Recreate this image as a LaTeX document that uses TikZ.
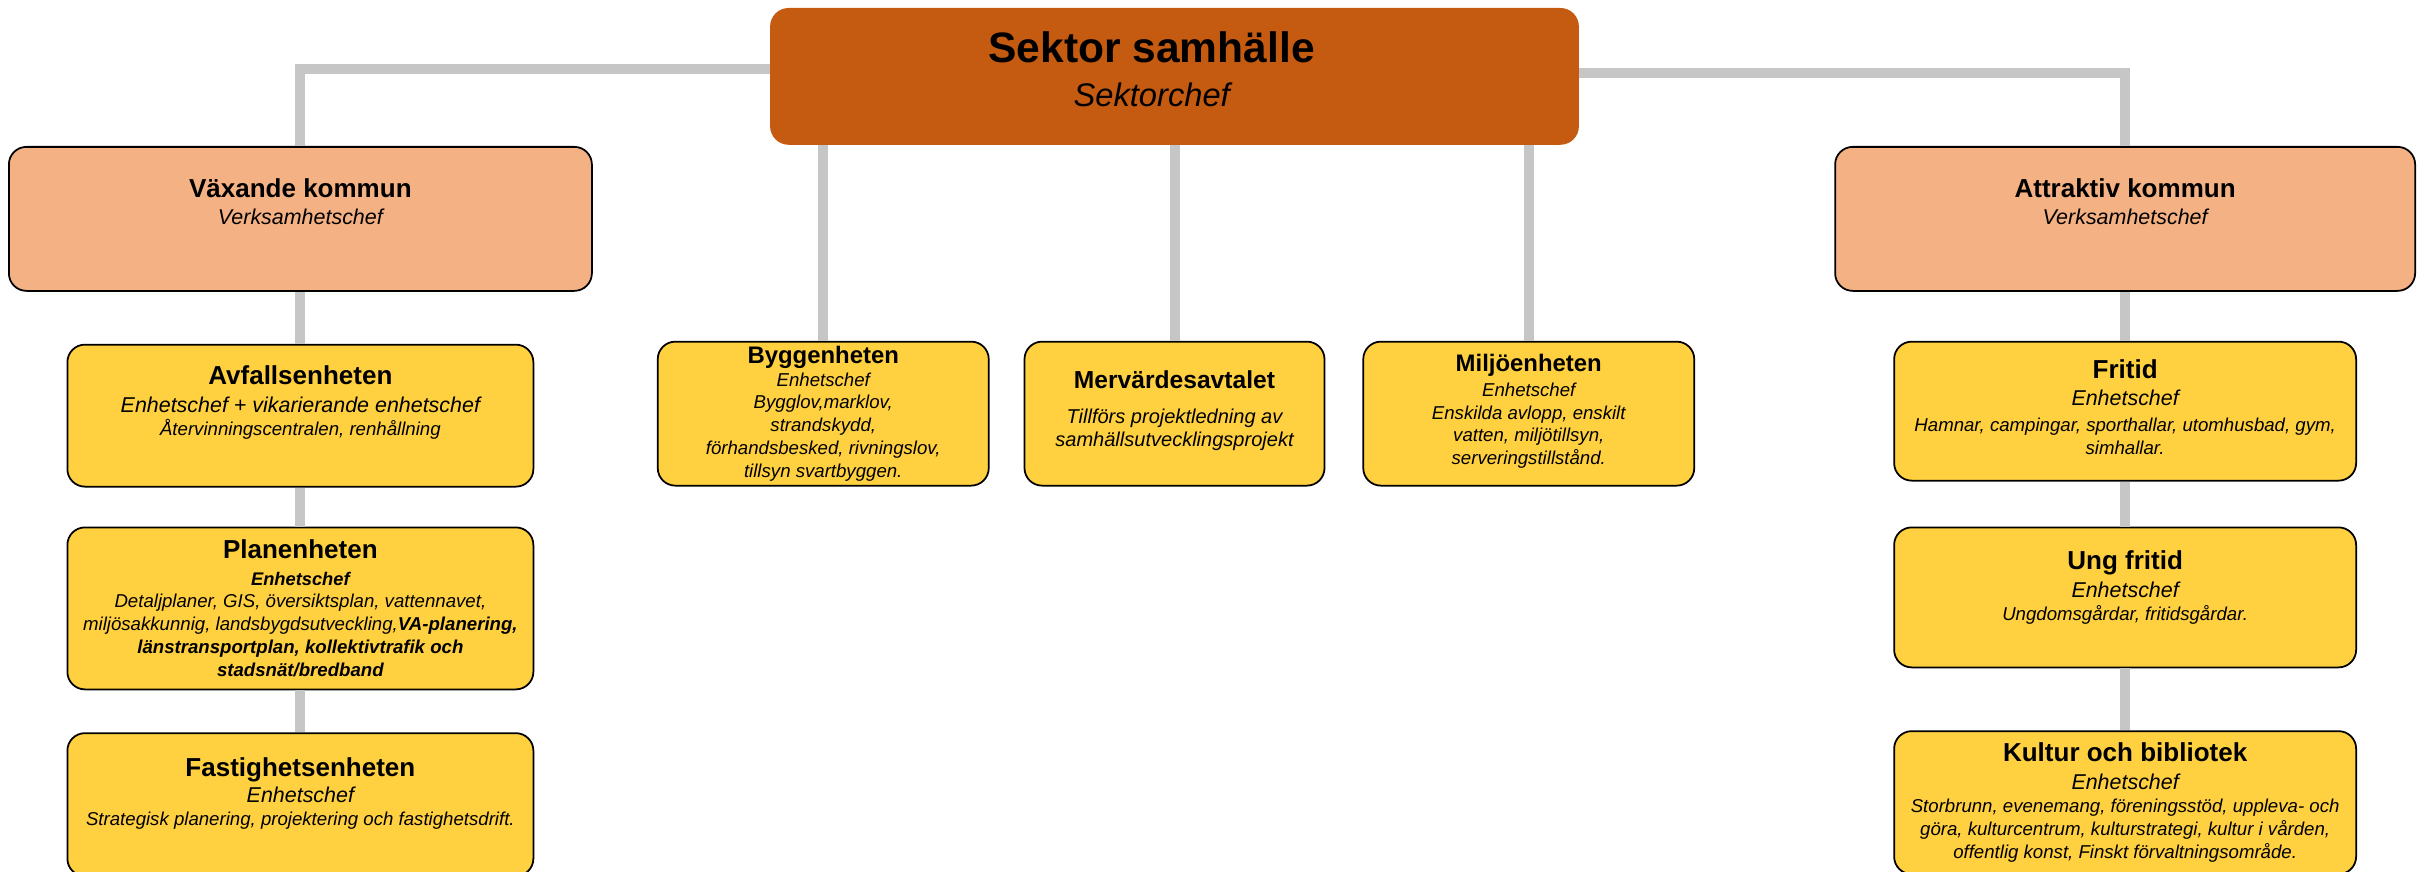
\documentclass[tikz,border=0pt]{standalone}
\usepackage{fontspec}
\setmainfont{Liberation Sans}
\usetikzlibrary{positioning, calc}
\definecolor{sectorFill}{RGB}{197, 90, 17}
\definecolor{areaFill}{RGB}{244, 177, 131}
\definecolor{unitFill}{RGB}{255, 208, 64}
\definecolor{linkGray}{RGB}{198, 198, 198}
\tikzstyle{link} = [draw=linkGray, line width=2.85pt]
\tikzstyle{basic} = [rectangle, rounded corners=5pt, draw=black, line width=0.5pt, align=center, inner sep=0pt, font=\fontsize{5.3}{6.5}\selectfont\itshape]
\tikzstyle{sectorstyle} = [basic, fill=sectorFill, draw=sectorFill, minimum width=8.07cm, minimum height=1.35cm, font=\fontsize{9.3}{12.5}\selectfont\itshape]
\tikzstyle{areastyle} = [basic, fill=areaFill, minimum width=5.8cm, minimum height=1.44cm]
\tikzstyle{unitstyle} = [basic, fill=unitFill, minimum width=4.66cm]
\tikzstyle{midstyle} = [basic, fill=unitFill, minimum height=1.44cm]
\newcommand{\unittitle}[1]{{\fontsize{7.4}{6.5}\selectfont\bfseries\upshape #1}}
\newcommand{\midtitle}[1]{{\fontsize{6.8}{6.5}\selectfont\bfseries\upshape #1}}
\newcommand{\unitchef}[1]{{\fontsize{6.1}{6.5}\selectfont #1}}
\newcommand{\padbelow}[1]{\rule[-#1]{0pt}{#1}}

\begin{document}
\begin{tikzpicture}[node distance=0mm]
\useasboundingbox (0,0) rectangle (24.19,-8.72);

\node (sector) [sectorstyle, anchor=north] at (11.745,-0.08) {{\fontsize{12.1}{12.5}\selectfont\bfseries\upshape Sektor samhälle}\hspace*{13pt}\\Sektorchef\hspace*{13pt}\padbelow{4.3pt}};

\node (grow) [areastyle, minimum width=5.83cm, anchor=north west] at (0.08,-1.46) {\unittitle{Växande kommun}\\[1.2pt]\unitchef{Verksamhetschef}\padbelow{10pt}};
\node (attract) [areastyle, anchor=north east] at (24.16,-1.46) {\unittitle{Attraktiv kommun}\\[1.2pt]\unitchef{Verksamhetschef}\padbelow{10pt}};

\node (avfall) [unitstyle, minimum height=1.42cm, anchor=north, yshift=-5.2mm] at(grow.south) {\unittitle{Avfallsenheten}\\[1.5pt]\unitchef{Enhetschef + vikarierande enhetschef}\\Återvinningscentralen, renhållning\padbelow{8.5pt}};
\node (plan) [unitstyle, minimum height=1.62cm, anchor=north, yshift=-3.9mm] at(avfall.south) {\unittitle{Planenheten}\\[1pt]{\fontsize{5.2}{6.5}\selectfont\bfseries Enhetschef}\\Detaljplaner, GIS, översiktsplan, vattennavet,\\miljösakkunnig, landsbygdsutveckling,{\bfseries VA-planering,}\\{\bfseries länstransportplan, kollektivtrafik och}\\{\bfseries stadsnät/bredband}};
\node (fast) [unitstyle, minimum height=1.43cm, anchor=north, yshift=-4.2mm] at(plan.south) {\unittitle{Fastighetsenheten}\\[1pt]\unitchef{Enhetschef}\\Strategisk planering, projektering och fastighetsdrift.\padbelow{7.4pt}};

\node (merv) [midstyle, minimum width=3.0cm, anchor=north, yshift=-1.96cm] at(sector.south) {{\fontsize{7}{6.5}\selectfont\bfseries\upshape Mervärdesavtalet}\\[3.5pt]{\fontsize{5.7}{6.5}\selectfont Tillförs projektledning av}\\{\fontsize{5.7}{6.5}\selectfont samhällsutvecklingsprojekt}\padbelow{2.8pt}};
\node (bygg) [midstyle, minimum width=3.31cm, anchor=east, xshift=-3.4mm] at(merv.west) {\midtitle{Byggenheten}\\Enhetschef\\Bygglov,marklov,\\strandskydd,\\förhandsbesked, rivningslov,\\tillsyn svartbyggen.};
\node (miljo) [midstyle, minimum width=3.31cm, anchor=west, xshift=3.7mm] at(merv.east) {\midtitle{Miljöenheten}\\[0.5pt]Enhetschef\\Enskilda avlopp, enskilt\\vatten, miljötillsyn,\\serveringstillstånd.\padbelow{2.3pt}};

\node (fritid) [unitstyle, minimum width=4.62cm, minimum height=1.39cm, anchor=north, yshift=-4.9mm] at(attract.south) {\unittitle{Fritid}\\[1pt]\unitchef{Enhetschef}\\[1pt]Hamnar, campingar, sporthallar, utomhusbad, gym,\\simhallar.\padbelow{2.3pt}};
\node (ung) [unitstyle, minimum width=4.62cm, minimum height=1.40cm, anchor=north, yshift=-4.5mm] at(fritid.south) {\unittitle{Ung fritid}\\[1.5pt]\unitchef{Enhetschef}\\Ungdomsgårdar, fritidsgårdar.\padbelow{6.7pt}};
\node (kultur) [unitstyle, minimum width=4.62cm, minimum height=1.43cm, anchor=north, yshift=-6.2mm] at(ung.south) {\unittitle{Kultur och bibliotek}\\[1.5pt]\unitchef{Enhetschef}\\Storbrunn, evenemang, föreningsstöd, uppleva- och\\göra, kulturcentrum, kulturstrategi, kultur i vården,\\offentlig konst, Finskt förvaltningsområde.};

\draw [link] ([yshift=0.75mm]sector.west) -| (grow.north);
\draw [link] ([yshift=0.35mm]sector.east) -| (attract.north);
\draw [link] (bygg.north) -- (bygg.north |- sector.south);
\draw [link] (merv.north) -- (merv.north |- sector.south);
\draw [link] (miljo.north) -- (miljo.north |- sector.south);

\draw [link] (grow.south) -- (avfall.north);
\draw [link] (avfall.south) -- (plan.north);
\draw [link] (plan.south) -- (fast.north);
\draw [link] (attract.south) -- (fritid.north);
\draw [link] (fritid.south) -- (ung.north);
\draw [link] (ung.south) -- (kultur.north);

\end{tikzpicture}
\end{document}
